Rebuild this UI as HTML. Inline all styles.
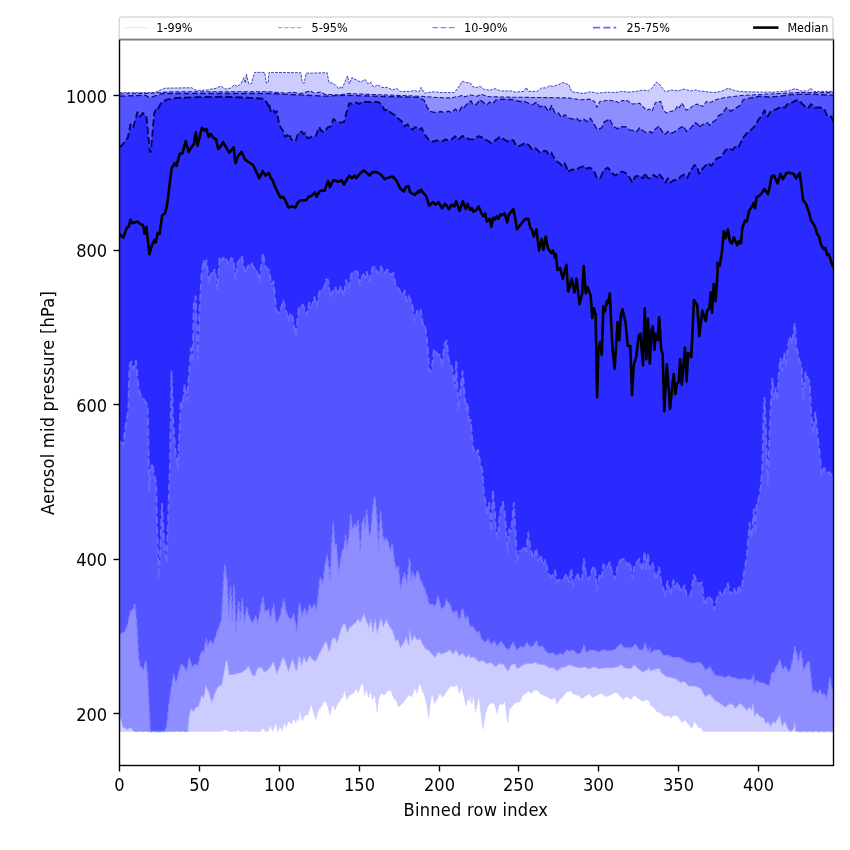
<!DOCTYPE html>
<html><head><meta charset="utf-8"><title>Aerosol mid pressure percentiles</title>
<style>
html,body{margin:0;padding:0;background:#fff;}
body{width:850px;height:850px;overflow:hidden;}
svg{display:block;}
text{font-family:"DejaVu Sans Condensed","DejaVu Sans","Liberation Sans",sans-serif;font-stretch:condensed;fill:#000;}
.tk{font-size:18.06px;}
.lb{font-size:18.06px;letter-spacing:0.24px;}
.lg{font-size:12.5px;}
</style></head><body>
<svg width="850" height="850" viewBox="0 0 850 850">
<rect x="0" y="0" width="850" height="850" fill="#fff"/>
<defs><clipPath id="ax"><rect x="119.5" y="39.5" width="714.0" height="726.0"/></clipPath></defs>
<g clip-path="url(#ax)">
<path d="M119.5,92.6 L154.3,92.6 L164.9,88.2 L191.4,87.7 L196.6,90.4 L207.2,90.0 L216.1,88.2 L221.0,86.1 L224.9,89.1 L230.2,88.2 L234.6,84.7 L237.2,86.5 L240.8,83.8 L243.9,77.6 L245.2,82.9 L246.4,74.1 L248.7,83.8 L251.4,83.8 L254.5,72.4 L264.6,72.4 L266.4,82.9 L268.1,82.9 L269.0,72.4 L300.8,72.7 L302.5,82.9 L304.3,82.9 L306.1,73.2 L327.2,72.7 L329.0,82.9 L332.5,82.9 L336.9,86.5 L338.7,89.1 L340.5,86.5 L342.2,88.2 L347.5,75.9 L349.3,83.8 L351.9,77.6 L357.2,80.3 L360.8,82.1 L365.2,79.4 L367.8,83.8 L370.5,82.1 L374.0,87.4 L377.5,84.7 L381.9,87.4 L387.2,87.4 L392.5,90.0 L396.9,88.2 L399.6,91.4 L410.2,91.4 L413.7,90.4 L419.0,91.8 L421.1,87.4 L424.3,93.2 L433.1,91.8 L441.9,92.6 L454.3,92.6 L457.8,88.2 L462.2,81.2 L466.6,82.6 L470.2,82.9 L472.8,86.8 L477.2,87.4 L479.9,86.1 L483.4,89.1 L489.6,90.4 L494.9,88.6 L500.2,90.9 L510.8,90.9 L515.2,92.1 L524.0,91.4 L526.3,87.4 L528.4,91.4 L537.2,91.4 L541.6,87.9 L546.1,87.9 L549.6,85.6 L553.1,86.5 L558.4,84.7 L562.8,82.6 L569.0,84.7 L571.6,91.8 L577.8,92.6 L583.1,93.5 L590.2,91.8 L597.2,93.2 L607.8,92.1 L614.9,92.6 L621.9,91.4 L629.0,92.1 L636.1,91.4 L643.1,90.0 L648.4,90.9 L651.9,88.2 L656.4,82.1 L659.0,83.8 L662.5,88.2 L665.2,91.8 L671.4,90.0 L678.4,90.9 L683.7,89.1 L690.8,90.9 L696.1,90.0 L699.6,91.1 L700.0,90.9 L707.1,91.8 L714.1,92.6 L721.2,91.4 L728.2,88.2 L735.3,90.9 L745.9,91.8 L761.8,92.1 L774.1,92.1 L788.2,90.9 L795.3,88.6 L800.6,90.9 L807.6,90.9 L810.8,88.2 L813.8,91.4 L833.5,91.4 L833.5,731.5 L703.6,731.5 L701.3,728.2 L698.2,727.1 L694.7,721.2 L691.9,728.2 L688.8,724.7 L685.3,720.0 L681.8,722.4 L678.2,716.5 L674.7,715.3 L671.2,717.6 L667.6,715.3 L664.1,716.5 L660.6,712.9 L657.1,711.8 L653.5,707.1 L650.0,704.7 L649.8,701.6 L646.8,699.5 L642.6,701.6 L638.4,698.5 L634.1,695.3 L630.9,699.5 L626.7,696.4 L622.9,699.5 L620.4,696.4 L616.1,692.1 L609.8,695.3 L605.5,696.4 L601.3,693.2 L597.1,695.3 L592.8,697.4 L589.6,694.2 L586.5,695.3 L582.2,698.5 L578.0,695.3 L573.8,694.2 L570.6,691.1 L566.4,692.1 L563.2,696.4 L560.0,699.5 L556.8,703.8 L554.7,697.4 L551.5,699.5 L548.4,697.4 L544.1,695.3 L540.9,694.2 L537.3,690.0 L534.6,690.0 L531.4,693.2 L528.2,691.1 L526.1,693.2 L522.9,695.3 L519.8,701.6 L515.5,702.7 L512.4,705.9 L509.2,710.1 L507.7,722.8 L504.9,701.6 L502.2,704.8 L499.6,703.8 L497.1,713.3 L494.4,703.8 L491.2,702.7 L488.0,705.9 L485.2,714.4 L483.1,729.2 L481.0,714.4 L478.9,696.4 L476.8,705.9 L475.3,712.2 L473.8,695.3 L471.7,703.8 L470.0,691.1 L469.8,701.6 L467.9,697.4 L466.2,705.9 L464.7,699.5 L461.5,686.8 L459.4,693.2 L457.3,684.7 L454.1,686.8 L450.9,685.8 L446.7,691.1 L442.5,697.4 L439.9,693.2 L437.2,699.5 L434.4,703.8 L432.3,693.2 L430.8,699.5 L428.7,718.6 L426.6,703.8 L424.5,695.3 L422.4,691.1 L419.6,682.6 L417.1,693.2 L414.9,687.9 L411.8,696.4 L408.6,695.3 L405.4,699.5 L402.2,703.8 L398.4,706.9 L395.9,699.5 L393.8,698.5 L390.6,690.0 L387.4,691.1 L384.2,695.3 L381.1,693.2 L378.5,699.5 L377.2,712.2 L374.7,694.2 L372.6,699.5 L370.5,691.1 L368.4,697.4 L366.7,688.9 L364.5,695.3 L363.1,683.6 L360.9,684.7 L358.2,693.2 L356.1,688.9 L353.5,693.2 L349.3,695.3 L346.8,699.5 L344.6,690.0 L342.9,696.4 L340.8,699.5 L337.6,703.8 L334.9,710.1 L332.4,703.8 L330.2,715.4 L327.7,705.9 L324.9,699.5 L321.8,705.9 L318.6,710.1 L315.8,719.6 L313.3,712.2 L311.2,703.8 L308.0,714.4 L304.8,715.4 L302.3,720.7 L299.5,709.1 L298.8,720.9 L297.9,716.7 L295.8,723.1 L293.7,717.8 L291.6,724.1 L288.4,720.9 L286.3,727.3 L284.2,723.1 L282.1,730.5 L279.9,726.2 L277.8,731.5 L275.7,723.1 L272.5,731.5 L270.4,725.2 L268.3,731.5 L265.1,731.5 L263.0,727.3 L260.9,731.5 L247.8,731.5 L246.1,729.4 L245.0,731.5 L239.3,731.5 L237.6,729.4 L236.5,731.5 L228.1,731.5 L225.9,729.4 L220.6,731.5 L119.5,731.5Z" fill="#0000ff" fill-opacity="0.2" stroke="none"/>
<path d="M119.5,93.9 L145.5,93.5 L171.9,91.8 L269.0,91.8 L286.6,93.2 L291.9,92.1 L300.8,93.5 L310.5,90.9 L314.9,93.5 L320.2,92.1 L325.5,94.4 L339.6,94.9 L348.4,93.5 L357.2,93.9 L419.0,96.2 L436.6,97.4 L450.8,97.9 L459.6,96.2 L462.2,95.3 L464.9,96.7 L470.2,94.9 L477.2,96.2 L480.8,94.4 L489.6,96.7 L507.2,97.1 L569.0,97.9 L579.6,99.7 L590.2,99.2 L594.6,101.5 L596.9,107.3 L599.9,101.5 L609.6,100.2 L616.6,101.5 L619.3,103.2 L621.9,100.6 L627.2,100.6 L632.5,104.1 L639.6,103.2 L643.1,106.8 L646.6,110.3 L649.3,109.1 L651.9,111.2 L655.5,102.4 L660.8,101.5 L663.4,110.3 L666.1,112.9 L671.4,111.2 L674.9,110.3 L677.5,105.9 L679.3,107.6 L681.9,103.2 L686.4,110.3 L690.8,107.6 L694.3,105.0 L697.8,104.1 L699.6,106.2 L700.0,105.5 L703.5,106.2 L706.2,101.5 L710.6,102.4 L715.9,99.7 L722.9,97.9 L731.8,96.7 L744.1,95.3 L761.8,94.4 L779.4,93.5 L797.1,92.6 L833.5,92.6 L833.5,731.7 L797.1,731.7 L796.1,731.5 L794.7,722.4 L793.5,728.7 L790.7,731.5 L787.9,728.7 L785.1,721.6 L782.2,725.9 L779.7,714.6 L775.2,723.1 L773.1,720.9 L770.9,725.9 L768.1,721.6 L766.0,723.8 L763.9,718.1 L759.6,716.0 L757.1,712.5 L754.7,716.0 L753.3,703.3 L751.2,709.6 L749.1,706.8 L746.9,710.4 L743.4,706.1 L739.9,703.3 L735.6,708.2 L732.8,704.7 L730.0,703.3 L729.5,704.0 L725.3,707.1 L720.6,703.5 L714.7,700.0 L710.0,694.1 L705.3,696.5 L700.6,688.2 L694.7,685.9 L688.8,685.9 L684.1,681.2 L680.6,682.4 L675.9,678.8 L671.2,677.6 L666.5,676.5 L661.8,672.9 L659.4,668.2 L654.7,669.4 L650.0,670.6 L649.8,667.8 L646.8,669.9 L642.6,672.0 L638.4,668.8 L634.1,664.6 L630.9,668.8 L624.6,667.8 L620.8,664.6 L618.2,666.7 L611.9,667.8 L605.5,667.8 L599.2,668.8 L593.9,666.7 L588.6,668.8 L584.4,666.7 L580.1,667.8 L574.8,666.7 L569.5,664.6 L565.3,666.7 L561.1,667.8 L556.8,670.9 L553.6,667.8 L549.4,667.8 L544.1,664.6 L539.9,664.6 L535.6,662.5 L530.4,663.5 L526.1,663.5 L521.9,665.6 L517.6,668.8 L514.5,663.5 L511.3,664.6 L507.7,670.9 L503.9,664.6 L499.6,663.5 L495.4,666.7 L491.2,662.5 L486.9,663.5 L482.7,660.4 L478.5,661.4 L474.2,657.2 L470.0,657.2 L469.8,654.0 L465.8,657.2 L462.6,652.9 L459.4,656.1 L456.2,649.8 L453.1,654.0 L449.9,649.8 L446.7,651.9 L441.4,654.0 L438.2,651.9 L435.1,657.2 L431.9,654.0 L428.7,649.8 L426.6,649.8 L423.4,645.5 L419.6,638.1 L417.1,640.2 L414.5,634.9 L411.8,641.3 L409.6,628.6 L409.0,645.5 L406.5,637.1 L404.4,641.3 L400.5,647.6 L398.0,639.2 L395.9,641.3 L392.7,630.7 L389.5,626.5 L386.4,619.1 L383.2,626.5 L381.1,616.9 L377.2,632.8 L375.1,618.0 L373.0,631.8 L370.9,619.1 L368.8,626.5 L366.2,620.1 L363.7,613.8 L360.3,622.2 L358.2,619.1 L353.5,624.4 L350.4,626.5 L347.2,631.8 L345.5,624.4 L342.9,624.4 L339.8,632.8 L337.0,642.4 L334.9,637.1 L331.9,639.2 L329.2,651.9 L326.4,641.3 L323.9,644.5 L319.6,652.9 L315.4,661.4 L312.2,659.3 L309.5,655.1 L306.5,662.5 L303.8,656.1 L301.6,665.6 L299.5,655.5 L298.8,657.4 L296.5,671.2 L292.6,658.5 L288.4,671.2 L286.3,663.8 L283.1,656.4 L279.9,665.9 L276.8,673.3 L273.6,661.6 L269.4,668.0 L265.1,672.2 L260.9,666.9 L257.7,668.0 L254.5,676.5 L251.4,673.3 L248.6,665.9 L246.1,669.1 L241.8,672.2 L237.6,673.3 L233.4,674.4 L229.1,674.4 L227.4,660.6 L225.9,661.6 L223.8,672.2 L221.7,684.9 L218.5,686.0 L215.4,691.3 L211.8,701.9 L209.0,692.4 L205.8,684.9 L203.7,697.6 L201.6,695.5 L198.4,706.1 L195.2,708.2 L193.1,711.4 L191.0,708.2 L188.9,716.7 L187.8,731.5 L133.8,731.5 L130.6,727.3 L127.5,729.4 L123.2,727.3 L120.7,718.8 L119.5,717.8Z" fill="#0000ff" fill-opacity="0.3" stroke="none"/>
<path d="M119.5,96.2 L145.5,95.3 L149.9,97.9 L154.3,96.2 L163.1,93.5 L269.0,93.5 L325.5,96.2 L343.1,95.3 L419.0,97.4 L424.3,100.6 L426.9,106.8 L429.6,111.2 L433.1,112.1 L436.6,112.6 L441.1,111.5 L444.6,112.9 L448.1,111.2 L451.6,112.6 L455.2,109.1 L458.7,112.1 L462.2,106.2 L464.0,107.6 L468.4,102.4 L471.1,100.9 L472.8,104.5 L476.4,104.5 L479.9,99.7 L483.4,102.4 L486.9,105.0 L489.6,102.0 L492.2,104.1 L495.8,100.2 L501.9,99.2 L512.5,99.7 L519.6,101.5 L524.9,101.5 L531.9,105.0 L536.4,102.4 L539.9,106.8 L544.3,105.5 L548.7,111.5 L551.7,105.5 L554.9,112.9 L558.4,112.9 L561.9,118.2 L564.6,114.7 L569.0,118.2 L572.5,119.1 L576.9,118.6 L579.6,120.9 L584.0,119.1 L586.6,121.8 L590.2,118.2 L593.7,123.5 L597.2,129.7 L601.6,127.9 L604.3,121.8 L609.6,119.1 L613.1,126.2 L617.5,128.8 L621.1,126.7 L625.5,126.7 L629.9,130.2 L634.3,130.6 L636.9,131.5 L639.6,127.9 L644.0,131.5 L647.5,133.2 L650.2,131.5 L651.9,133.2 L654.6,129.7 L659.0,126.2 L661.6,130.6 L664.3,135.0 L667.8,131.5 L672.2,133.2 L676.6,130.6 L680.2,127.9 L683.7,126.2 L686.4,131.5 L690.8,127.9 L695.2,122.6 L697.8,124.4 L699.6,127.9 L700.0,126.2 L703.5,124.4 L707.1,122.6 L709.7,125.3 L713.2,121.8 L715.9,120.0 L718.5,115.6 L722.1,113.8 L726.5,107.6 L730.9,111.2 L735.3,108.5 L740.6,105.0 L743.2,99.7 L751.2,97.9 L760.0,96.2 L770.6,97.1 L779.4,96.2 L788.2,94.9 L798.8,94.4 L814.7,94.4 L833.5,95.3 L833.5,693.4 L831.6,687.8 L830.0,677.9 L828.1,690.6 L826.7,698.4 L823.9,692.7 L822.5,696.2 L820.4,689.9 L817.5,694.1 L814.7,690.6 L812.6,693.4 L810.8,676.5 L809.1,660.9 L806.2,665.2 L803.4,670.8 L802.3,660.9 L800.6,650.4 L798.5,663.1 L796.6,653.9 L794.9,646.8 L792.1,663.8 L789.3,672.9 L787.2,669.4 L785.1,666.6 L782.5,670.1 L780.1,660.2 L777.3,665.2 L774.5,671.5 L771.6,673.6 L769.5,685.6 L766.7,684.9 L762.5,682.8 L758.2,682.1 L756.1,680.7 L754.7,686.4 L753.3,674.4 L751.9,680.0 L749.8,680.0 L744.1,678.6 L738.5,679.3 L734.2,677.9 L730.0,676.5 L729.5,675.8 L725.3,677.6 L720.6,676.5 L714.7,675.3 L710.0,667.1 L705.3,670.6 L701.8,663.5 L697.1,662.4 L692.4,663.5 L685.3,661.2 L679.4,657.6 L673.5,657.6 L667.6,655.3 L662.9,655.3 L659.4,649.4 L654.7,650.6 L650.0,652.9 L649.8,647.6 L647.9,651.9 L645.3,643.4 L642.6,650.8 L639.4,649.8 L635.2,644.5 L630.9,648.7 L627.8,647.6 L623.5,647.6 L620.8,643.4 L616.1,648.7 L611.9,650.8 L607.6,650.8 L603.4,649.8 L599.2,651.9 L594.9,650.8 L590.7,649.8 L586.5,652.9 L583.9,645.5 L581.2,652.9 L576.9,654.0 L572.7,649.8 L569.5,651.9 L566.4,649.8 L563.2,655.1 L560.0,652.9 L556.8,656.1 L553.6,652.9 L549.4,654.0 L545.2,650.8 L542.0,645.5 L538.8,647.6 L536.7,641.3 L533.5,645.5 L530.4,647.6 L527.2,642.4 L524.0,647.6 L520.8,646.6 L516.6,650.8 L513.4,642.4 L511.3,645.5 L508.1,650.8 L503.9,645.5 L500.7,641.3 L497.5,646.6 L494.4,641.3 L491.2,644.5 L488.0,639.2 L484.8,642.4 L481.6,639.2 L478.5,630.7 L476.4,632.8 L473.2,626.5 L470.0,626.5 L469.8,626.1 L467.5,615.5 L465.3,619.8 L462.6,608.1 L459.4,620.8 L456.2,610.2 L453.1,613.4 L449.9,604.9 L446.7,599.6 L444.2,607.1 L441.4,609.2 L438.2,596.5 L435.1,607.1 L432.9,603.9 L429.3,604.9 L426.6,594.4 L423.4,585.9 L420.2,579.5 L417.5,570.0 L414.9,579.5 L412.8,572.1 L411.1,581.6 L409.6,558.4 L406.9,583.8 L404.4,573.2 L402.7,579.5 L400.5,590.1 L398.4,566.8 L395.9,568.9 L394.2,560.5 L392.3,543.5 L390.6,552.0 L388.5,543.5 L385.7,537.2 L384.2,543.5 L382.8,537.2 L380.6,511.8 L378.5,549.9 L376.8,518.1 L374.7,495.9 L372.6,511.8 L370.5,537.2 L368.8,532.9 L366.7,509.6 L365.2,530.8 L363.7,518.1 L362.0,524.5 L360.3,554.1 L358.2,520.2 L356.1,527.6 L354.2,524.5 L352.5,530.8 L350.8,514.9 L349.3,532.9 L347.2,549.9 L345.7,535.1 L344.0,547.8 L341.9,552.0 L338.7,573.2 L336.2,542.5 L334.9,547.8 L333.2,522.4 L331.9,543.5 L330.2,581.6 L329.2,571.1 L327.1,555.2 L324.9,566.8 L322.8,585.9 L320.7,577.4 L319.6,581.6 L316.5,611.3 L314.4,603.9 L312.2,609.2 L309.5,604.9 L306.9,615.5 L304.4,608.1 L302.3,617.6 L299.5,602.8 L298.8,608.7 L296.9,632.0 L293.7,614.0 L290.5,620.4 L286.3,612.9 L283.8,599.2 L279.9,617.2 L276.1,623.5 L273.6,604.5 L270.4,619.3 L268.3,608.7 L265.1,612.9 L263.0,597.1 L259.8,612.9 L257.7,623.5 L255.6,616.1 L252.4,623.5 L249.2,617.2 L246.7,607.6 L244.4,623.5 L242.2,599.2 L240.3,621.4 L238.6,601.3 L235.9,632.0 L234.0,585.4 L232.3,621.4 L230.6,587.5 L228.7,619.3 L227.0,581.2 L224.9,565.3 L223.8,576.9 L221.7,619.3 L219.6,625.6 L216.4,634.1 L213.2,644.7 L210.1,640.5 L207.9,646.8 L206.2,638.4 L203.7,653.2 L201.6,651.1 L197.8,665.9 L195.2,663.8 L192.1,668.0 L189.3,657.4 L186.8,672.2 L184.6,668.0 L181.9,663.8 L179.4,670.1 L176.2,682.8 L173.6,674.4 L170.9,691.3 L168.8,706.1 L166.6,727.3 L164.5,731.5 L150.3,731.5 L149.1,708.2 L147.6,678.6 L145.9,660.6 L143.4,670.1 L140.2,665.9 L138.5,657.4 L137.0,627.8 L134.9,604.5 L132.8,609.8 L130.6,610.8 L127.5,625.6 L124.3,632.0 L120.7,634.1 L119.5,634.1Z" fill="#0000ff" fill-opacity="0.4" stroke="none"/>
<path d="M119.5,147.4 L122.5,144.7 L127.8,137.6 L130.5,124.4 L133.1,127.9 L137.5,112.1 L140.2,116.5 L142.8,112.9 L146.4,116.5 L149.9,151.8 L150.8,151.8 L154.3,112.9 L156.9,107.6 L158.2,108.5 L161.4,102.4 L166.6,99.7 L177.2,97.9 L198.4,97.1 L224.9,96.7 L251.4,97.9 L263.7,98.8 L267.2,103.2 L268.8,106.8 L269.0,104.1 L270.8,111.2 L273.4,109.4 L275.2,112.9 L276.9,111.2 L278.7,121.8 L280.5,127.1 L284.0,132.4 L284.9,136.8 L287.5,135.0 L288.4,138.5 L290.2,135.9 L291.1,139.4 L295.5,141.2 L298.1,133.2 L301.6,131.5 L303.4,134.1 L305.2,133.2 L307.8,138.5 L311.4,136.8 L315.8,135.9 L319.3,127.1 L321.1,130.6 L324.6,132.4 L327.2,127.9 L330.8,126.2 L333.4,119.1 L336.9,121.8 L340.5,122.6 L344.0,121.8 L346.6,112.1 L349.3,103.2 L353.7,104.1 L356.4,102.4 L359.0,104.1 L361.6,102.0 L378.4,102.0 L381.9,105.0 L384.6,110.3 L388.1,109.4 L390.8,112.9 L394.3,114.7 L397.8,118.2 L401.4,120.9 L404.0,126.2 L407.5,124.4 L411.9,129.7 L415.5,127.1 L418.8,129.7 L419.0,129.7 L421.6,127.9 L424.3,134.1 L427.8,138.5 L429.6,140.8 L433.1,141.5 L436.6,140.3 L441.9,141.5 L445.5,139.4 L449.9,140.8 L455.2,136.2 L458.7,139.4 L462.2,135.9 L465.8,137.6 L469.3,139.4 L473.7,139.4 L478.1,136.2 L482.5,137.6 L486.9,140.3 L491.4,143.3 L494.9,140.8 L499.3,137.3 L502.8,138.5 L507.2,141.5 L509.9,139.8 L513.4,140.3 L516.9,146.8 L521.4,145.1 L524.9,142.9 L528.4,144.7 L531.9,149.1 L535.5,148.2 L539.9,152.6 L542.5,150.9 L546.1,150.9 L548.7,154.4 L551.4,152.6 L554.9,159.7 L558.4,162.4 L561.9,165.5 L564.6,163.2 L568.8,172.1 L569.0,170.8 L572.5,169.4 L576.1,170.3 L578.7,168.0 L584.0,165.9 L586.6,168.5 L590.2,167.6 L594.6,172.1 L597.2,178.6 L600.8,177.4 L603.4,170.3 L607.8,167.6 L612.2,172.9 L614.9,175.6 L618.4,173.8 L621.9,171.5 L625.5,172.9 L629.9,177.9 L632.2,182.6 L635.2,176.5 L639.6,175.6 L643.1,178.6 L644.9,172.9 L647.5,177.9 L651.1,178.6 L653.7,174.7 L656.4,177.4 L659.0,173.8 L662.5,178.2 L665.2,182.6 L667.8,178.2 L670.5,182.6 L674.0,180.0 L677.5,180.0 L681.1,176.1 L684.6,174.7 L687.2,177.9 L690.8,170.3 L694.6,165.0 L696.9,166.2 L699.2,173.8 L700.0,172.1 L703.5,167.6 L707.9,163.2 L711.5,165.9 L714.1,161.5 L717.6,157.9 L721.2,157.1 L725.6,150.0 L729.1,148.2 L732.6,150.0 L736.2,145.6 L738.8,146.5 L743.2,137.6 L746.8,133.2 L751.2,129.7 L755.6,125.3 L758.2,120.0 L761.8,115.6 L764.4,110.3 L767.9,116.5 L770.6,111.2 L775.9,109.4 L781.2,106.8 L784.7,107.6 L788.2,103.2 L792.6,102.4 L796.2,100.2 L799.7,100.9 L802.4,104.1 L807.6,108.5 L811.2,104.1 L814.7,107.6 L820.0,107.3 L824.4,109.4 L827.9,117.4 L831.5,116.5 L833.5,123.5 L833.5,477.3 L829.2,472.0 L827.1,473.1 L823.9,467.8 L821.8,475.2 L819.6,454.0 L817.5,434.9 L815.4,412.7 L813.3,432.8 L811.2,415.9 L809.7,382.0 L807.6,377.8 L805.5,372.5 L803.3,398.9 L801.6,366.1 L799.5,360.8 L797.8,352.4 L796.4,348.1 L794.7,323.8 L792.1,343.9 L790.0,336.5 L787.9,346.0 L785.8,365.1 L784.3,353.4 L782.2,371.4 L780.5,358.7 L778.8,373.5 L777.3,401.1 L775.8,388.4 L774.1,398.9 L772.4,378.8 L770.9,403.2 L769.5,437.1 L767.8,483.6 L766.1,437.1 L764.6,397.9 L763.5,415.9 L762.7,458.2 L762.2,470.0 L760.7,486.9 L758.6,499.6 L756.5,503.9 L755.4,533.5 L753.9,509.2 L751.8,537.8 L749.7,522.9 L748.0,542.0 L746.9,556.8 L743.8,573.8 L741.2,591.8 L739.1,585.4 L736.4,596.0 L734.2,588.6 L730.6,594.9 L727.9,583.3 L724.7,590.7 L722.6,597.1 L720.0,591.8 L717.3,597.1 L714.5,609.8 L712.0,600.2 L708.2,596.0 L704.6,605.5 L701.8,582.2 L698.9,584.4 L696.1,580.1 L694.0,574.8 L690.8,594.9 L687.0,597.1 L684.5,585.4 L681.3,592.8 L677.7,582.2 L675.6,587.5 L673.5,580.1 L670.1,594.9 L667.5,581.2 L665.0,597.1 L663.3,588.6 L661.2,582.2 L659.1,567.4 L655.9,580.1 L652.7,563.2 L650.2,566.4 L649.8,569.5 L647.9,554.7 L646.2,569.5 L644.7,551.5 L642.0,571.6 L639.4,558.9 L634.1,566.4 L632.6,579.1 L629.9,562.1 L627.8,565.3 L624.2,558.9 L620.8,560.0 L618.2,563.2 L615.1,579.1 L611.9,571.6 L609.8,562.1 L606.6,568.5 L603.4,564.2 L601.7,576.9 L599.6,573.8 L597.1,590.7 L594.9,566.4 L592.4,568.5 L589.0,580.1 L586.0,573.8 L583.9,558.9 L582.2,578.0 L580.1,582.2 L577.6,572.7 L575.9,578.0 L573.3,585.4 L571.2,568.5 L569.1,582.2 L566.4,573.8 L563.2,580.1 L560.0,579.1 L556.8,582.2 L555.1,570.6 L551.5,576.9 L548.4,573.8 L545.2,560.0 L543.1,566.4 L540.9,554.7 L538.2,561.1 L536.3,548.4 L533.5,558.9 L530.4,548.4 L528.2,532.5 L526.1,551.5 L525.1,546.2 L521.9,550.5 L519.1,551.5 L517.0,561.1 L515.5,531.4 L513.8,502.8 L511.3,531.4 L509.2,529.3 L507.7,552.6 L504.9,514.5 L502.8,501.8 L499.6,514.5 L498.0,537.8 L495.8,531.4 L495.0,514.5 L492.9,490.1 L491.2,531.4 L489.1,502.8 L486.9,515.5 L485.9,503.9 L483.8,493.3 L482.4,471.3 L480.2,462.8 L478.1,450.1 L474.9,454.4 L472.8,445.9 L470.7,420.5 L468.9,420.0 L467.5,403.1 L465.8,409.4 L462.6,371.3 L460.5,388.2 L458.4,409.4 L456.2,360.7 L454.8,388.2 L452.0,367.1 L448.8,360.7 L446.7,340.6 L444.6,343.8 L442.0,367.1 L439.9,354.4 L438.2,355.4 L434.0,349.1 L431.5,371.3 L429.3,371.3 L427.6,345.9 L425.1,324.7 L423.0,324.7 L420.7,309.9 L419.2,313.1 L417.1,310.9 L414.9,320.5 L411.8,302.5 L408.6,296.1 L406.5,301.4 L404.8,290.8 L402.2,296.1 L398.0,287.6 L395.5,284.5 L393.3,272.8 L390.6,274.9 L387.4,269.6 L384.2,273.9 L381.1,266.5 L377.9,273.9 L374.7,266.5 L372.6,267.5 L369.4,281.3 L366.7,271.8 L365.2,278.1 L363.1,272.8 L359.9,285.5 L357.8,271.8 L354.6,270.7 L351.4,273.9 L348.2,288.7 L346.1,280.2 L344.0,296.1 L340.8,286.6 L337.6,295.1 L335.5,287.6 L333.4,289.8 L330.2,297.2 L328.1,280.2 L326.0,279.2 L323.9,288.7 L319.6,290.8 L316.5,306.7 L314.4,297.2 L311.2,307.8 L309.1,302.5 L306.9,315.2 L302.7,304.6 L298.8,307.8 L295.8,335.3 L292.6,317.3 L290.5,313.1 L288.4,320.5 L286.3,312.0 L283.1,300.4 L279.9,313.1 L276.1,310.9 L273.6,281.3 L271.0,284.5 L269.4,270.7 L267.2,268.6 L265.1,266.5 L263.0,253.1 L261.3,265.4 L259.2,281.3 L256.6,269.6 L254.5,268.6 L251.4,263.3 L248.2,265.4 L245.4,273.9 L243.9,267.5 L241.8,255.9 L239.7,260.1 L237.6,263.3 L235.5,279.2 L233.4,260.1 L231.2,258.0 L229.1,265.4 L227.0,260.1 L223.8,256.9 L221.7,261.2 L219.6,256.9 L217.5,289.8 L214.7,269.6 L213.2,273.9 L211.1,271.8 L209.0,283.4 L206.5,260.1 L205.2,267.5 L203.7,260.1 L201.6,273.9 L199.5,309.9 L197.8,358.6 L195.7,296.1 L193.8,303.5 L192.7,362.8 L191.0,348.0 L188.9,375.5 L186.8,400.9 L184.6,385.1 L182.5,407.3 L180.8,400.9 L179.4,431.8 L177.9,469.9 L175.1,448.7 L173.0,419.1 L171.5,371.3 L171.1,400.0 L169.8,469.9 L168.1,518.6 L166.6,563.1 L163.9,537.6 L162.0,503.8 L160.3,548.2 L158.8,577.9 L157.1,527.1 L156.1,482.6 L153.9,474.1 L152.2,463.5 L150.3,472.0 L149.3,491.1 L148.4,442.4 L148.0,420.0 L147.6,405.2 L145.5,402.0 L142.7,397.8 L140.2,394.6 L138.1,384.0 L135.9,360.7 L133.4,369.2 L131.3,361.8 L129.6,364.9 L128.7,388.2 L128.3,410.6 L125.4,427.5 L123.2,444.5 L120.7,442.4 L119.5,441.3Z" fill="#0000ff" fill-opacity="0.5" stroke="none"/>
<path d="M119.5,731.5 L220.6,731.5 L225.9,729.4 L228.1,731.5 L236.5,731.5 L237.6,729.4 L239.3,731.5 L245.0,731.5 L246.1,729.4 L247.8,731.5 L260.9,731.5 L263.0,727.3 L265.1,731.5 L268.3,731.5 L270.4,725.2 L272.5,731.5 L275.7,723.1 L277.8,731.5 L279.9,726.2 L282.1,730.5 L284.2,723.1 L286.3,727.3 L288.4,720.9 L291.6,724.1 L293.7,717.8 L295.8,723.1 L297.9,716.7 L298.8,720.9 L299.5,709.1 L302.3,720.7 L304.8,715.4 L308.0,714.4 L311.2,703.8 L313.3,712.2 L315.8,719.6 L318.6,710.1 L321.8,705.9 L324.9,699.5 L327.7,705.9 L330.2,715.4 L332.4,703.8 L334.9,710.1 L337.6,703.8 L340.8,699.5 L342.9,696.4 L344.6,690.0 L346.8,699.5 L349.3,695.3 L353.5,693.2 L356.1,688.9 L358.2,693.2 L360.9,684.7 L363.1,683.6 L364.5,695.3 L366.7,688.9 L368.4,697.4 L370.5,691.1 L372.6,699.5 L374.7,694.2 L377.2,712.2 L378.5,699.5 L381.1,693.2 L384.2,695.3 L387.4,691.1 L390.6,690.0 L393.8,698.5 L395.9,699.5 L398.4,706.9 L402.2,703.8 L405.4,699.5 L408.6,695.3 L411.8,696.4 L414.9,687.9 L417.1,693.2 L419.6,682.6 L422.4,691.1 L424.5,695.3 L426.6,703.8 L428.7,718.6 L430.8,699.5 L432.3,693.2 L434.4,703.8 L437.2,699.5 L439.9,693.2 L442.5,697.4 L446.7,691.1 L450.9,685.8 L454.1,686.8 L457.3,684.7 L459.4,693.2 L461.5,686.8 L464.7,699.5 L466.2,705.9 L467.9,697.4 L469.8,701.6 L470.0,691.1 L471.7,703.8 L473.8,695.3 L475.3,712.2 L476.8,705.9 L478.9,696.4 L481.0,714.4 L483.1,729.2 L485.2,714.4 L488.0,705.9 L491.2,702.7 L494.4,703.8 L497.1,713.3 L499.6,703.8 L502.2,704.8 L504.9,701.6 L507.7,722.8 L509.2,710.1 L512.4,705.9 L515.5,702.7 L519.8,701.6 L522.9,695.3 L526.1,693.2 L528.2,691.1 L531.4,693.2 L534.6,690.0 L537.3,690.0 L540.9,694.2 L544.1,695.3 L548.4,697.4 L551.5,699.5 L554.7,697.4 L556.8,703.8 L560.0,699.5 L563.2,696.4 L566.4,692.1 L570.6,691.1 L573.8,694.2 L578.0,695.3 L582.2,698.5 L586.5,695.3 L589.6,694.2 L592.8,697.4 L597.1,695.3 L601.3,693.2 L605.5,696.4 L609.8,695.3 L616.1,692.1 L620.4,696.4 L622.9,699.5 L626.7,696.4 L630.9,699.5 L634.1,695.3 L638.4,698.5 L642.6,701.6 L646.8,699.5 L649.8,701.6 L650.0,704.7 L653.5,707.1 L657.1,711.8 L660.6,712.9 L664.1,716.5 L667.6,715.3 L671.2,717.6 L674.7,715.3 L678.2,716.5 L681.8,722.4 L685.3,720.0 L688.8,724.7 L691.9,728.2 L694.7,721.2 L698.2,727.1 L701.3,728.2 L703.6,731.5 L833.5,731.5" fill="none" stroke="#ccccff" stroke-width="0.76" stroke-dasharray="2.8 1.2" stroke-linejoin="round"/>
<path d="M119.5,717.8 L120.7,718.8 L123.2,727.3 L127.5,729.4 L130.6,727.3 L133.8,731.5 L187.8,731.5 L188.9,716.7 L191.0,708.2 L193.1,711.4 L195.2,708.2 L198.4,706.1 L201.6,695.5 L203.7,697.6 L205.8,684.9 L209.0,692.4 L211.8,701.9 L215.4,691.3 L218.5,686.0 L221.7,684.9 L223.8,672.2 L225.9,661.6 L227.4,660.6 L229.1,674.4 L233.4,674.4 L237.6,673.3 L241.8,672.2 L246.1,669.1 L248.6,665.9 L251.4,673.3 L254.5,676.5 L257.7,668.0 L260.9,666.9 L265.1,672.2 L269.4,668.0 L273.6,661.6 L276.8,673.3 L279.9,665.9 L283.1,656.4 L286.3,663.8 L288.4,671.2 L292.6,658.5 L296.5,671.2 L298.8,657.4 L299.5,655.5 L301.6,665.6 L303.8,656.1 L306.5,662.5 L309.5,655.1 L312.2,659.3 L315.4,661.4 L319.6,652.9 L323.9,644.5 L326.4,641.3 L329.2,651.9 L331.9,639.2 L334.9,637.1 L337.0,642.4 L339.8,632.8 L342.9,624.4 L345.5,624.4 L347.2,631.8 L350.4,626.5 L353.5,624.4 L358.2,619.1 L360.3,622.2 L363.7,613.8 L366.2,620.1 L368.8,626.5 L370.9,619.1 L373.0,631.8 L375.1,618.0 L377.2,632.8 L381.1,616.9 L383.2,626.5 L386.4,619.1 L389.5,626.5 L392.7,630.7 L395.9,641.3 L398.0,639.2 L400.5,647.6 L404.4,641.3 L406.5,637.1 L409.0,645.5 L409.6,628.6 L411.8,641.3 L414.5,634.9 L417.1,640.2 L419.6,638.1 L423.4,645.5 L426.6,649.8 L428.7,649.8 L431.9,654.0 L435.1,657.2 L438.2,651.9 L441.4,654.0 L446.7,651.9 L449.9,649.8 L453.1,654.0 L456.2,649.8 L459.4,656.1 L462.6,652.9 L465.8,657.2 L469.8,654.0 L470.0,657.2 L474.2,657.2 L478.5,661.4 L482.7,660.4 L486.9,663.5 L491.2,662.5 L495.4,666.7 L499.6,663.5 L503.9,664.6 L507.7,670.9 L511.3,664.6 L514.5,663.5 L517.6,668.8 L521.9,665.6 L526.1,663.5 L530.4,663.5 L535.6,662.5 L539.9,664.6 L544.1,664.6 L549.4,667.8 L553.6,667.8 L556.8,670.9 L561.1,667.8 L565.3,666.7 L569.5,664.6 L574.8,666.7 L580.1,667.8 L584.4,666.7 L588.6,668.8 L593.9,666.7 L599.2,668.8 L605.5,667.8 L611.9,667.8 L618.2,666.7 L620.8,664.6 L624.6,667.8 L630.9,668.8 L634.1,664.6 L638.4,668.8 L642.6,672.0 L646.8,669.9 L649.8,667.8 L650.0,670.6 L654.7,669.4 L659.4,668.2 L661.8,672.9 L666.5,676.5 L671.2,677.6 L675.9,678.8 L680.6,682.4 L684.1,681.2 L688.8,685.9 L694.7,685.9 L700.6,688.2 L705.3,696.5 L710.0,694.1 L714.7,700.0 L720.6,703.5 L725.3,707.1 L729.5,704.0 L730.0,703.3 L732.8,704.7 L735.6,708.2 L739.9,703.3 L743.4,706.1 L746.9,710.4 L749.1,706.8 L751.2,709.6 L753.3,703.3 L754.7,716.0 L757.1,712.5 L759.6,716.0 L763.9,718.1 L766.0,723.8 L768.1,721.6 L770.9,725.9 L773.1,720.9 L775.2,723.1 L779.7,714.6 L782.2,725.9 L785.1,721.6 L787.9,728.7 L790.7,731.5 L793.5,728.7 L794.7,722.4 L796.1,731.5 L797.1,731.7 L833.5,731.7" fill="none" stroke="#a3a3ff" stroke-width="1.05" stroke-dasharray="4.3 1.9" stroke-linejoin="round"/>
<path d="M119.5,634.1 L120.7,634.1 L124.3,632.0 L127.5,625.6 L130.6,610.8 L132.8,609.8 L134.9,604.5 L137.0,627.8 L138.5,657.4 L140.2,665.9 L143.4,670.1 L145.9,660.6 L147.6,678.6 L149.1,708.2 L150.3,731.5 L164.5,731.5 L166.6,727.3 L168.8,706.1 L170.9,691.3 L173.6,674.4 L176.2,682.8 L179.4,670.1 L181.9,663.8 L184.6,668.0 L186.8,672.2 L189.3,657.4 L192.1,668.0 L195.2,663.8 L197.8,665.9 L201.6,651.1 L203.7,653.2 L206.2,638.4 L207.9,646.8 L210.1,640.5 L213.2,644.7 L216.4,634.1 L219.6,625.6 L221.7,619.3 L223.8,576.9 L224.9,565.3 L227.0,581.2 L228.7,619.3 L230.6,587.5 L232.3,621.4 L234.0,585.4 L235.9,632.0 L238.6,601.3 L240.3,621.4 L242.2,599.2 L244.4,623.5 L246.7,607.6 L249.2,617.2 L252.4,623.5 L255.6,616.1 L257.7,623.5 L259.8,612.9 L263.0,597.1 L265.1,612.9 L268.3,608.7 L270.4,619.3 L273.6,604.5 L276.1,623.5 L279.9,617.2 L283.8,599.2 L286.3,612.9 L290.5,620.4 L293.7,614.0 L296.9,632.0 L298.8,608.7 L299.5,602.8 L302.3,617.6 L304.4,608.1 L306.9,615.5 L309.5,604.9 L312.2,609.2 L314.4,603.9 L316.5,611.3 L319.6,581.6 L320.7,577.4 L322.8,585.9 L324.9,566.8 L327.1,555.2 L329.2,571.1 L330.2,581.6 L331.9,543.5 L333.2,522.4 L334.9,547.8 L336.2,542.5 L338.7,573.2 L341.9,552.0 L344.0,547.8 L345.7,535.1 L347.2,549.9 L349.3,532.9 L350.8,514.9 L352.5,530.8 L354.2,524.5 L356.1,527.6 L358.2,520.2 L360.3,554.1 L362.0,524.5 L363.7,518.1 L365.2,530.8 L366.7,509.6 L368.8,532.9 L370.5,537.2 L372.6,511.8 L374.7,495.9 L376.8,518.1 L378.5,549.9 L380.6,511.8 L382.8,537.2 L384.2,543.5 L385.7,537.2 L388.5,543.5 L390.6,552.0 L392.3,543.5 L394.2,560.5 L395.9,568.9 L398.4,566.8 L400.5,590.1 L402.7,579.5 L404.4,573.2 L406.9,583.8 L409.6,558.4 L411.1,581.6 L412.8,572.1 L414.9,579.5 L417.5,570.0 L420.2,579.5 L423.4,585.9 L426.6,594.4 L429.3,604.9 L432.9,603.9 L435.1,607.1 L438.2,596.5 L441.4,609.2 L444.2,607.1 L446.7,599.6 L449.9,604.9 L453.1,613.4 L456.2,610.2 L459.4,620.8 L462.6,608.1 L465.3,619.8 L467.5,615.5 L469.8,626.1 L470.0,626.5 L473.2,626.5 L476.4,632.8 L478.5,630.7 L481.6,639.2 L484.8,642.4 L488.0,639.2 L491.2,644.5 L494.4,641.3 L497.5,646.6 L500.7,641.3 L503.9,645.5 L508.1,650.8 L511.3,645.5 L513.4,642.4 L516.6,650.8 L520.8,646.6 L524.0,647.6 L527.2,642.4 L530.4,647.6 L533.5,645.5 L536.7,641.3 L538.8,647.6 L542.0,645.5 L545.2,650.8 L549.4,654.0 L553.6,652.9 L556.8,656.1 L560.0,652.9 L563.2,655.1 L566.4,649.8 L569.5,651.9 L572.7,649.8 L576.9,654.0 L581.2,652.9 L583.9,645.5 L586.5,652.9 L590.7,649.8 L594.9,650.8 L599.2,651.9 L603.4,649.8 L607.6,650.8 L611.9,650.8 L616.1,648.7 L620.8,643.4 L623.5,647.6 L627.8,647.6 L630.9,648.7 L635.2,644.5 L639.4,649.8 L642.6,650.8 L645.3,643.4 L647.9,651.9 L649.8,647.6 L650.0,652.9 L654.7,650.6 L659.4,649.4 L662.9,655.3 L667.6,655.3 L673.5,657.6 L679.4,657.6 L685.3,661.2 L692.4,663.5 L697.1,662.4 L701.8,663.5 L705.3,670.6 L710.0,667.1 L714.7,675.3 L720.6,676.5 L725.3,677.6 L729.5,675.8 L730.0,676.5 L734.2,677.9 L738.5,679.3 L744.1,678.6 L749.8,680.0 L751.9,680.0 L753.3,674.4 L754.7,686.4 L756.1,680.7 L758.2,682.1 L762.5,682.8 L766.7,684.9 L769.5,685.6 L771.6,673.6 L774.5,671.5 L777.3,665.2 L780.1,660.2 L782.5,670.1 L785.1,666.6 L787.2,669.4 L789.3,672.9 L792.1,663.8 L794.9,646.8 L796.6,653.9 L798.5,663.1 L800.6,650.4 L802.3,660.9 L803.4,670.8 L806.2,665.2 L809.1,660.9 L810.8,676.5 L812.6,693.4 L814.7,690.6 L817.5,694.1 L820.4,689.9 L822.5,696.2 L823.9,692.7 L826.7,698.4 L828.1,690.6 L830.0,677.9 L831.6,687.8 L833.5,693.4" fill="none" stroke="#8282ff" stroke-width="1.35" stroke-dasharray="5.7 2.5" stroke-linejoin="round"/>
<path d="M119.5,441.3 L120.7,442.4 L123.2,444.5 L125.4,427.5 L128.3,410.6 L128.7,388.2 L129.6,364.9 L131.3,361.8 L133.4,369.2 L135.9,360.7 L138.1,384.0 L140.2,394.6 L142.7,397.8 L145.5,402.0 L147.6,405.2 L148.0,420.0 L148.4,442.4 L149.3,491.1 L150.3,472.0 L152.2,463.5 L153.9,474.1 L156.1,482.6 L157.1,527.1 L158.8,577.9 L160.3,548.2 L162.0,503.8 L163.9,537.6 L166.6,563.1 L168.1,518.6 L169.8,469.9 L171.1,400.0 L171.5,371.3 L173.0,419.1 L175.1,448.7 L177.9,469.9 L179.4,431.8 L180.8,400.9 L182.5,407.3 L184.6,385.1 L186.8,400.9 L188.9,375.5 L191.0,348.0 L192.7,362.8 L193.8,303.5 L195.7,296.1 L197.8,358.6 L199.5,309.9 L201.6,273.9 L203.7,260.1 L205.2,267.5 L206.5,260.1 L209.0,283.4 L211.1,271.8 L213.2,273.9 L214.7,269.6 L217.5,289.8 L219.6,256.9 L221.7,261.2 L223.8,256.9 L227.0,260.1 L229.1,265.4 L231.2,258.0 L233.4,260.1 L235.5,279.2 L237.6,263.3 L239.7,260.1 L241.8,255.9 L243.9,267.5 L245.4,273.9 L248.2,265.4 L251.4,263.3 L254.5,268.6 L256.6,269.6 L259.2,281.3 L261.3,265.4 L263.0,253.1 L265.1,266.5 L267.2,268.6 L269.4,270.7 L271.0,284.5 L273.6,281.3 L276.1,310.9 L279.9,313.1 L283.1,300.4 L286.3,312.0 L288.4,320.5 L290.5,313.1 L292.6,317.3 L295.8,335.3 L298.8,307.8 L302.7,304.6 L306.9,315.2 L309.1,302.5 L311.2,307.8 L314.4,297.2 L316.5,306.7 L319.6,290.8 L323.9,288.7 L326.0,279.2 L328.1,280.2 L330.2,297.2 L333.4,289.8 L335.5,287.6 L337.6,295.1 L340.8,286.6 L344.0,296.1 L346.1,280.2 L348.2,288.7 L351.4,273.9 L354.6,270.7 L357.8,271.8 L359.9,285.5 L363.1,272.8 L365.2,278.1 L366.7,271.8 L369.4,281.3 L372.6,267.5 L374.7,266.5 L377.9,273.9 L381.1,266.5 L384.2,273.9 L387.4,269.6 L390.6,274.9 L393.3,272.8 L395.5,284.5 L398.0,287.6 L402.2,296.1 L404.8,290.8 L406.5,301.4 L408.6,296.1 L411.8,302.5 L414.9,320.5 L417.1,310.9 L419.2,313.1 L420.7,309.9 L423.0,324.7 L425.1,324.7 L427.6,345.9 L429.3,371.3 L431.5,371.3 L434.0,349.1 L438.2,355.4 L439.9,354.4 L442.0,367.1 L444.6,343.8 L446.7,340.6 L448.8,360.7 L452.0,367.1 L454.8,388.2 L456.2,360.7 L458.4,409.4 L460.5,388.2 L462.6,371.3 L465.8,409.4 L467.5,403.1 L468.9,420.0 L470.7,420.5 L472.8,445.9 L474.9,454.4 L478.1,450.1 L480.2,462.8 L482.4,471.3 L483.8,493.3 L485.9,503.9 L486.9,515.5 L489.1,502.8 L491.2,531.4 L492.9,490.1 L495.0,514.5 L495.8,531.4 L498.0,537.8 L499.6,514.5 L502.8,501.8 L504.9,514.5 L507.7,552.6 L509.2,529.3 L511.3,531.4 L513.8,502.8 L515.5,531.4 L517.0,561.1 L519.1,551.5 L521.9,550.5 L525.1,546.2 L526.1,551.5 L528.2,532.5 L530.4,548.4 L533.5,558.9 L536.3,548.4 L538.2,561.1 L540.9,554.7 L543.1,566.4 L545.2,560.0 L548.4,573.8 L551.5,576.9 L555.1,570.6 L556.8,582.2 L560.0,579.1 L563.2,580.1 L566.4,573.8 L569.1,582.2 L571.2,568.5 L573.3,585.4 L575.9,578.0 L577.6,572.7 L580.1,582.2 L582.2,578.0 L583.9,558.9 L586.0,573.8 L589.0,580.1 L592.4,568.5 L594.9,566.4 L597.1,590.7 L599.6,573.8 L601.7,576.9 L603.4,564.2 L606.6,568.5 L609.8,562.1 L611.9,571.6 L615.1,579.1 L618.2,563.2 L620.8,560.0 L624.2,558.9 L627.8,565.3 L629.9,562.1 L632.6,579.1 L634.1,566.4 L639.4,558.9 L642.0,571.6 L644.7,551.5 L646.2,569.5 L647.9,554.7 L649.8,569.5 L650.2,566.4 L652.7,563.2 L655.9,580.1 L659.1,567.4 L661.2,582.2 L663.3,588.6 L665.0,597.1 L667.5,581.2 L670.1,594.9 L673.5,580.1 L675.6,587.5 L677.7,582.2 L681.3,592.8 L684.5,585.4 L687.0,597.1 L690.8,594.9 L694.0,574.8 L696.1,580.1 L698.9,584.4 L701.8,582.2 L704.6,605.5 L708.2,596.0 L712.0,600.2 L714.5,609.8 L717.3,597.1 L720.0,591.8 L722.6,597.1 L724.7,590.7 L727.9,583.3 L730.6,594.9 L734.2,588.6 L736.4,596.0 L739.1,585.4 L741.2,591.8 L743.8,573.8 L746.9,556.8 L748.0,542.0 L749.7,522.9 L751.8,537.8 L753.9,509.2 L755.4,533.5 L756.5,503.9 L758.6,499.6 L760.7,486.9 L762.2,470.0 L762.7,458.2 L763.5,415.9 L764.6,397.9 L766.1,437.1 L767.8,483.6 L769.5,437.1 L770.9,403.2 L772.4,378.8 L774.1,398.9 L775.8,388.4 L777.3,401.1 L778.8,373.5 L780.5,358.7 L782.2,371.4 L784.3,353.4 L785.8,365.1 L787.9,346.0 L790.0,336.5 L792.1,343.9 L794.7,323.8 L796.4,348.1 L797.8,352.4 L799.5,360.8 L801.6,366.1 L803.3,398.9 L805.5,372.5 L807.6,377.8 L809.7,382.0 L811.2,415.9 L813.3,432.8 L815.4,412.7 L817.5,434.9 L819.6,454.0 L821.8,475.2 L823.9,467.8 L827.1,473.1 L829.2,472.0 L833.5,477.3" fill="none" stroke="#6868ff" stroke-width="1.85" stroke-dasharray="7.2 3.1" stroke-linejoin="round"/>
<path d="M119.5,92.6 L154.3,92.6 L164.9,88.2 L191.4,87.7 L196.6,90.4 L207.2,90.0 L216.1,88.2 L221.0,86.1 L224.9,89.1 L230.2,88.2 L234.6,84.7 L237.2,86.5 L240.8,83.8 L243.9,77.6 L245.2,82.9 L246.4,74.1 L248.7,83.8 L251.4,83.8 L254.5,72.4 L264.6,72.4 L266.4,82.9 L268.1,82.9 L269.0,72.4 L300.8,72.7 L302.5,82.9 L304.3,82.9 L306.1,73.2 L327.2,72.7 L329.0,82.9 L332.5,82.9 L336.9,86.5 L338.7,89.1 L340.5,86.5 L342.2,88.2 L347.5,75.9 L349.3,83.8 L351.9,77.6 L357.2,80.3 L360.8,82.1 L365.2,79.4 L367.8,83.8 L370.5,82.1 L374.0,87.4 L377.5,84.7 L381.9,87.4 L387.2,87.4 L392.5,90.0 L396.9,88.2 L399.6,91.4 L410.2,91.4 L413.7,90.4 L419.0,91.8 L421.1,87.4 L424.3,93.2 L433.1,91.8 L441.9,92.6 L454.3,92.6 L457.8,88.2 L462.2,81.2 L466.6,82.6 L470.2,82.9 L472.8,86.8 L477.2,87.4 L479.9,86.1 L483.4,89.1 L489.6,90.4 L494.9,88.6 L500.2,90.9 L510.8,90.9 L515.2,92.1 L524.0,91.4 L526.3,87.4 L528.4,91.4 L537.2,91.4 L541.6,87.9 L546.1,87.9 L549.6,85.6 L553.1,86.5 L558.4,84.7 L562.8,82.6 L569.0,84.7 L571.6,91.8 L577.8,92.6 L583.1,93.5 L590.2,91.8 L597.2,93.2 L607.8,92.1 L614.9,92.6 L621.9,91.4 L629.0,92.1 L636.1,91.4 L643.1,90.0 L648.4,90.9 L651.9,88.2 L656.4,82.1 L659.0,83.8 L662.5,88.2 L665.2,91.8 L671.4,90.0 L678.4,90.9 L683.7,89.1 L690.8,90.9 L696.1,90.0 L699.6,91.1 L700.0,90.9 L707.1,91.8 L714.1,92.6 L721.2,91.4 L728.2,88.2 L735.3,90.9 L745.9,91.8 L761.8,92.1 L774.1,92.1 L788.2,90.9 L795.3,88.6 L800.6,90.9 L807.6,90.9 L810.8,88.2 L813.8,91.4 L833.5,91.4" fill="none" stroke="#1c1cb0" stroke-width="0.80" stroke-dasharray="2.8 1.2" stroke-linejoin="round"/>
<path d="M119.5,93.9 L145.5,93.5 L171.9,91.8 L269.0,91.8 L286.6,93.2 L291.9,92.1 L300.8,93.5 L310.5,90.9 L314.9,93.5 L320.2,92.1 L325.5,94.4 L339.6,94.9 L348.4,93.5 L357.2,93.9 L419.0,96.2 L436.6,97.4 L450.8,97.9 L459.6,96.2 L462.2,95.3 L464.9,96.7 L470.2,94.9 L477.2,96.2 L480.8,94.4 L489.6,96.7 L507.2,97.1 L569.0,97.9 L579.6,99.7 L590.2,99.2 L594.6,101.5 L596.9,107.3 L599.9,101.5 L609.6,100.2 L616.6,101.5 L619.3,103.2 L621.9,100.6 L627.2,100.6 L632.5,104.1 L639.6,103.2 L643.1,106.8 L646.6,110.3 L649.3,109.1 L651.9,111.2 L655.5,102.4 L660.8,101.5 L663.4,110.3 L666.1,112.9 L671.4,111.2 L674.9,110.3 L677.5,105.9 L679.3,107.6 L681.9,103.2 L686.4,110.3 L690.8,107.6 L694.3,105.0 L697.8,104.1 L699.6,106.2 L700.0,105.5 L703.5,106.2 L706.2,101.5 L710.6,102.4 L715.9,99.7 L722.9,97.9 L731.8,96.7 L744.1,95.3 L761.8,94.4 L779.4,93.5 L797.1,92.6 L833.5,92.6" fill="none" stroke="#1515a0" stroke-width="1.05" stroke-dasharray="4.3 1.9" stroke-linejoin="round"/>
<path d="M119.5,96.2 L145.5,95.3 L149.9,97.9 L154.3,96.2 L163.1,93.5 L269.0,93.5 L325.5,96.2 L343.1,95.3 L419.0,97.4 L424.3,100.6 L426.9,106.8 L429.6,111.2 L433.1,112.1 L436.6,112.6 L441.1,111.5 L444.6,112.9 L448.1,111.2 L451.6,112.6 L455.2,109.1 L458.7,112.1 L462.2,106.2 L464.0,107.6 L468.4,102.4 L471.1,100.9 L472.8,104.5 L476.4,104.5 L479.9,99.7 L483.4,102.4 L486.9,105.0 L489.6,102.0 L492.2,104.1 L495.8,100.2 L501.9,99.2 L512.5,99.7 L519.6,101.5 L524.9,101.5 L531.9,105.0 L536.4,102.4 L539.9,106.8 L544.3,105.5 L548.7,111.5 L551.7,105.5 L554.9,112.9 L558.4,112.9 L561.9,118.2 L564.6,114.7 L569.0,118.2 L572.5,119.1 L576.9,118.6 L579.6,120.9 L584.0,119.1 L586.6,121.8 L590.2,118.2 L593.7,123.5 L597.2,129.7 L601.6,127.9 L604.3,121.8 L609.6,119.1 L613.1,126.2 L617.5,128.8 L621.1,126.7 L625.5,126.7 L629.9,130.2 L634.3,130.6 L636.9,131.5 L639.6,127.9 L644.0,131.5 L647.5,133.2 L650.2,131.5 L651.9,133.2 L654.6,129.7 L659.0,126.2 L661.6,130.6 L664.3,135.0 L667.8,131.5 L672.2,133.2 L676.6,130.6 L680.2,127.9 L683.7,126.2 L686.4,131.5 L690.8,127.9 L695.2,122.6 L697.8,124.4 L699.6,127.9 L700.0,126.2 L703.5,124.4 L707.1,122.6 L709.7,125.3 L713.2,121.8 L715.9,120.0 L718.5,115.6 L722.1,113.8 L726.5,107.6 L730.9,111.2 L735.3,108.5 L740.6,105.0 L743.2,99.7 L751.2,97.9 L760.0,96.2 L770.6,97.1 L779.4,96.2 L788.2,94.9 L798.8,94.4 L814.7,94.4 L833.5,95.3" fill="none" stroke="#0e0e8a" stroke-width="1.35" stroke-dasharray="5.7 2.5" stroke-linejoin="round"/>
<path d="M119.5,147.4 L122.5,144.7 L127.8,137.6 L130.5,124.4 L133.1,127.9 L137.5,112.1 L140.2,116.5 L142.8,112.9 L146.4,116.5 L149.9,151.8 L150.8,151.8 L154.3,112.9 L156.9,107.6 L158.2,108.5 L161.4,102.4 L166.6,99.7 L177.2,97.9 L198.4,97.1 L224.9,96.7 L251.4,97.9 L263.7,98.8 L267.2,103.2 L268.8,106.8 L269.0,104.1 L270.8,111.2 L273.4,109.4 L275.2,112.9 L276.9,111.2 L278.7,121.8 L280.5,127.1 L284.0,132.4 L284.9,136.8 L287.5,135.0 L288.4,138.5 L290.2,135.9 L291.1,139.4 L295.5,141.2 L298.1,133.2 L301.6,131.5 L303.4,134.1 L305.2,133.2 L307.8,138.5 L311.4,136.8 L315.8,135.9 L319.3,127.1 L321.1,130.6 L324.6,132.4 L327.2,127.9 L330.8,126.2 L333.4,119.1 L336.9,121.8 L340.5,122.6 L344.0,121.8 L346.6,112.1 L349.3,103.2 L353.7,104.1 L356.4,102.4 L359.0,104.1 L361.6,102.0 L378.4,102.0 L381.9,105.0 L384.6,110.3 L388.1,109.4 L390.8,112.9 L394.3,114.7 L397.8,118.2 L401.4,120.9 L404.0,126.2 L407.5,124.4 L411.9,129.7 L415.5,127.1 L418.8,129.7 L419.0,129.7 L421.6,127.9 L424.3,134.1 L427.8,138.5 L429.6,140.8 L433.1,141.5 L436.6,140.3 L441.9,141.5 L445.5,139.4 L449.9,140.8 L455.2,136.2 L458.7,139.4 L462.2,135.9 L465.8,137.6 L469.3,139.4 L473.7,139.4 L478.1,136.2 L482.5,137.6 L486.9,140.3 L491.4,143.3 L494.9,140.8 L499.3,137.3 L502.8,138.5 L507.2,141.5 L509.9,139.8 L513.4,140.3 L516.9,146.8 L521.4,145.1 L524.9,142.9 L528.4,144.7 L531.9,149.1 L535.5,148.2 L539.9,152.6 L542.5,150.9 L546.1,150.9 L548.7,154.4 L551.4,152.6 L554.9,159.7 L558.4,162.4 L561.9,165.5 L564.6,163.2 L568.8,172.1 L569.0,170.8 L572.5,169.4 L576.1,170.3 L578.7,168.0 L584.0,165.9 L586.6,168.5 L590.2,167.6 L594.6,172.1 L597.2,178.6 L600.8,177.4 L603.4,170.3 L607.8,167.6 L612.2,172.9 L614.9,175.6 L618.4,173.8 L621.9,171.5 L625.5,172.9 L629.9,177.9 L632.2,182.6 L635.2,176.5 L639.6,175.6 L643.1,178.6 L644.9,172.9 L647.5,177.9 L651.1,178.6 L653.7,174.7 L656.4,177.4 L659.0,173.8 L662.5,178.2 L665.2,182.6 L667.8,178.2 L670.5,182.6 L674.0,180.0 L677.5,180.0 L681.1,176.1 L684.6,174.7 L687.2,177.9 L690.8,170.3 L694.6,165.0 L696.9,166.2 L699.2,173.8 L700.0,172.1 L703.5,167.6 L707.9,163.2 L711.5,165.9 L714.1,161.5 L717.6,157.9 L721.2,157.1 L725.6,150.0 L729.1,148.2 L732.6,150.0 L736.2,145.6 L738.8,146.5 L743.2,137.6 L746.8,133.2 L751.2,129.7 L755.6,125.3 L758.2,120.0 L761.8,115.6 L764.4,110.3 L767.9,116.5 L770.6,111.2 L775.9,109.4 L781.2,106.8 L784.7,107.6 L788.2,103.2 L792.6,102.4 L796.2,100.2 L799.7,100.9 L802.4,104.1 L807.6,108.5 L811.2,104.1 L814.7,107.6 L820.0,107.3 L824.4,109.4 L827.9,117.4 L831.5,116.5 L833.5,123.5" fill="none" stroke="#05055a" stroke-width="1.85" stroke-dasharray="7.2 3.1" stroke-linejoin="round"/>
<path d="M119.5,233.8 L119.9,234.7 L123.4,237.4 L126.9,227.6 L128.7,226.8 L130.5,219.7 L132.2,223.2 L137.5,221.5 L140.2,224.1 L142.8,225.0 L144.6,233.8 L146.4,226.8 L149.4,254.1 L151.6,246.2 L154.3,240.0 L155.7,242.6 L157.8,232.9 L159.6,233.8 L162.2,215.3 L164.9,213.5 L167.0,205.6 L169.3,187.1 L171.6,168.5 L174.6,163.2 L176.4,165.9 L179.9,153.5 L182.5,153.5 L185.7,141.2 L188.7,151.8 L191.4,147.4 L194.0,143.8 L195.8,132.4 L197.5,145.6 L201.9,127.9 L204.6,130.6 L206.4,128.8 L208.6,136.8 L210.8,134.1 L213.4,137.6 L216.1,139.4 L218.2,149.1 L220.5,146.5 L223.1,142.1 L226.6,148.2 L229.3,152.6 L233.7,147.4 L235.5,163.2 L238.1,156.2 L241.6,151.8 L245.2,159.7 L247.8,161.5 L253.1,165.0 L259.3,178.2 L262.8,171.2 L265.5,175.6 L268.8,172.9 L269.0,172.9 L270.8,178.2 L272.5,180.0 L275.2,187.1 L277.8,192.4 L280.5,197.6 L283.1,196.8 L285.8,201.2 L288.4,207.4 L291.9,206.5 L295.5,207.4 L298.1,202.1 L300.8,200.3 L306.1,200.3 L308.7,196.8 L311.4,195.9 L314.9,192.4 L316.6,196.8 L319.3,191.5 L321.9,190.6 L324.6,190.6 L328.1,180.9 L329.9,187.1 L333.4,180.0 L338.7,181.8 L341.4,180.0 L344.0,184.4 L346.6,180.0 L349.3,175.6 L351.9,178.2 L354.6,175.6 L356.4,178.2 L359.0,174.7 L363.4,170.3 L366.1,172.1 L369.6,175.6 L372.2,172.1 L376.6,172.1 L381.1,174.7 L384.6,179.1 L389.0,177.4 L392.5,176.5 L396.1,180.0 L400.5,188.8 L404.0,191.5 L405.8,187.1 L408.4,186.2 L410.2,192.4 L414.6,195.0 L418.8,190.6 L419.0,192.4 L421.1,189.7 L423.4,193.2 L426.1,195.9 L429.2,205.6 L433.1,202.1 L435.8,204.7 L438.4,202.1 L441.9,208.2 L445.1,203.8 L449.0,209.1 L451.6,204.7 L454.3,206.5 L456.1,201.2 L459.6,210.9 L462.8,201.2 L465.8,209.1 L467.5,203.8 L470.2,210.0 L471.9,208.2 L473.7,211.8 L476.4,210.0 L478.6,206.5 L481.6,213.5 L483.4,216.2 L485.2,213.5 L486.9,221.5 L489.6,218.8 L491.4,226.8 L493.1,217.9 L494.9,219.7 L496.6,216.2 L498.4,218.8 L500.2,214.4 L501.9,215.3 L504.6,213.2 L507.2,222.4 L509.0,214.4 L513.4,209.1 L515.2,217.9 L516.9,229.4 L519.6,225.9 L523.1,221.5 L525.8,218.8 L528.4,218.8 L530.2,227.6 L531.9,229.4 L533.7,236.5 L536.4,229.4 L539.0,250.6 L541.6,239.1 L543.4,249.7 L545.7,236.5 L547.8,247.9 L551.4,253.2 L553.1,250.6 L554.9,257.6 L555.8,254.1 L557.5,270.0 L560.2,268.2 L562.8,278.8 L566.4,264.7 L568.1,291.2 L568.5,291.4 L571.6,278.7 L574.4,292.5 L576.5,278.7 L579.5,304.1 L582.2,293.5 L583.7,266.0 L585.8,293.5 L587.5,287.2 L590.7,295.6 L592.2,317.9 L593.9,308.4 L595.6,314.7 L597.1,397.3 L598.5,348.6 L600.2,342.2 L601.7,354.9 L603.4,306.2 L604.9,311.5 L607.0,300.9 L608.3,303.1 L609.8,293.5 L612.5,348.6 L614.6,368.7 L617.6,322.1 L619.3,340.1 L621.0,313.6 L622.5,309.4 L625.6,323.2 L627.8,346.0 L630.3,346.0 L632.0,395.2 L633.7,365.5 L636.2,357.1 L638.8,335.9 L640.5,333.8 L643.0,365.5 L644.7,308.4 L646.4,359.2 L647.9,318.9 L649.8,363.4 L651.5,329.5 L652.8,326.4 L654.4,349.6 L655.7,333.8 L657.8,340.1 L659.1,317.2 L661.2,349.6 L662.7,353.9 L664.2,411.1 L666.9,364.5 L670.1,408.9 L672.2,386.7 L673.7,374.0 L675.4,394.1 L676.9,383.5 L678.6,382.5 L680.1,359.2 L681.8,384.6 L684.9,347.5 L686.6,381.4 L688.1,352.8 L691.3,357.1 L694.0,299.9 L697.2,305.2 L699.3,335.9 L702.3,310.5 L705.7,321.1 L707.2,310.5 L709.3,308.4 L710.8,292.5 L712.0,312.6 L713.7,284.0 L715.6,300.9 L717.6,272.4 L717.6,262.9 L719.8,265.6 L722.1,250.6 L723.8,231.2 L725.6,238.2 L727.9,229.4 L730.0,241.8 L731.8,243.5 L733.9,237.4 L737.1,245.3 L739.2,240.9 L740.9,243.5 L742.4,227.6 L745.0,220.6 L746.8,221.5 L749.4,210.0 L752.1,206.5 L753.8,202.9 L755.1,208.2 L756.5,197.6 L759.1,195.9 L761.8,193.2 L764.4,188.8 L767.9,194.1 L769.7,187.1 L771.5,176.5 L774.1,175.6 L777.6,183.5 L780.3,173.8 L782.9,179.1 L786.5,172.9 L790.0,172.9 L793.5,173.8 L796.2,178.2 L799.7,172.9 L801.5,187.1 L803.2,200.3 L805.9,203.8 L808.5,210.9 L811.2,220.6 L814.7,225.9 L817.4,234.7 L819.1,236.5 L820.9,244.4 L823.5,248.8 L825.3,247.9 L827.1,255.0 L828.8,254.1 L831.5,262.9 L833.5,267.4" fill="none" stroke="#000" stroke-width="2.6" stroke-linejoin="round" stroke-linecap="square"/>
</g>
<rect x="119.5" y="39.5" width="714.0" height="726.0" fill="none" stroke="#000" stroke-width="1.39"/>
<line x1="119.5" y1="765.5" x2="119.5" y2="771.5" stroke="#000" stroke-width="1.39"/>
<text class="tk" x="119.5" y="790.6" text-anchor="middle">0</text>
<line x1="199.5" y1="765.5" x2="199.5" y2="771.5" stroke="#000" stroke-width="1.39"/>
<text class="tk" x="199.5" y="790.6" text-anchor="middle">50</text>
<line x1="279.5" y1="765.5" x2="279.5" y2="771.5" stroke="#000" stroke-width="1.39"/>
<text class="tk" x="279.5" y="790.6" text-anchor="middle">100</text>
<line x1="359.5" y1="765.5" x2="359.5" y2="771.5" stroke="#000" stroke-width="1.39"/>
<text class="tk" x="359.5" y="790.6" text-anchor="middle">150</text>
<line x1="439.5" y1="765.5" x2="439.5" y2="771.5" stroke="#000" stroke-width="1.39"/>
<text class="tk" x="439.5" y="790.6" text-anchor="middle">200</text>
<line x1="518.5" y1="765.5" x2="518.5" y2="771.5" stroke="#000" stroke-width="1.39"/>
<text class="tk" x="518.5" y="790.6" text-anchor="middle">250</text>
<line x1="598.5" y1="765.5" x2="598.5" y2="771.5" stroke="#000" stroke-width="1.39"/>
<text class="tk" x="598.5" y="790.6" text-anchor="middle">300</text>
<line x1="678.5" y1="765.5" x2="678.5" y2="771.5" stroke="#000" stroke-width="1.39"/>
<text class="tk" x="678.5" y="790.6" text-anchor="middle">350</text>
<line x1="758.5" y1="765.5" x2="758.5" y2="771.5" stroke="#000" stroke-width="1.39"/>
<text class="tk" x="758.5" y="790.6" text-anchor="middle">400</text>
<line x1="113.5" y1="713.5" x2="119.5" y2="713.5" stroke="#000" stroke-width="1.39"/>
<text class="tk" x="107.2" y="721.0" text-anchor="end">200</text>
<line x1="113.5" y1="559.5" x2="119.5" y2="559.5" stroke="#000" stroke-width="1.39"/>
<text class="tk" x="107.2" y="566.0" text-anchor="end">400</text>
<line x1="113.5" y1="404.5" x2="119.5" y2="404.5" stroke="#000" stroke-width="1.39"/>
<text class="tk" x="107.2" y="412.0" text-anchor="end">600</text>
<line x1="113.5" y1="250.5" x2="119.5" y2="250.5" stroke="#000" stroke-width="1.39"/>
<text class="tk" x="107.2" y="257.0" text-anchor="end">800</text>
<line x1="113.5" y1="95.5" x2="119.5" y2="95.5" stroke="#000" stroke-width="1.39"/>
<text class="tk" x="107.2" y="103.0" text-anchor="end">1000</text>
<text class="lb" x="475.9" y="815.5" text-anchor="middle">Binned row index</text>
<text class="lb" transform="translate(53.5,403) rotate(-90)" text-anchor="middle">Aerosol mid pressure [hPa]</text>
<rect x="119.2" y="17.1" width="713.8" height="22.3" rx="2.6" ry="2.6" fill="#fff" fill-opacity="0.8" stroke="#d9d9d9" stroke-width="1.5"/>
<line x1="119.2" y1="39.45" x2="833.8" y2="39.45" stroke="#7c7c7c" stroke-width="1.4"/>
<line x1="124.4" y1="27.6" x2="147.8" y2="27.6" stroke="#d4d4ff" stroke-width="0.76" stroke-dasharray="2.8 1.2"/>
<text class="lg" x="156.3" y="31.6">1-99%</text>
<line x1="278.2" y1="27.6" x2="301.2" y2="27.6" stroke="#a3a3ff" stroke-width="1.05" stroke-dasharray="4.3 1.9"/>
<text class="lg" x="311.5" y="31.6">5-95%</text>
<line x1="432.4" y1="27.6" x2="455.3" y2="27.6" stroke="#8282ff" stroke-width="1.35" stroke-dasharray="5.7 2.5"/>
<text class="lg" x="464.1" y="31.6">10-90%</text>
<line x1="593.0" y1="27.6" x2="616.2" y2="27.6" stroke="#6868ff" stroke-width="1.85" stroke-dasharray="7.2 3.1"/>
<text class="lg" x="626.6" y="31.6">25-75%</text>
<line x1="753.1" y1="27.6" x2="778.5" y2="27.6" stroke="#000" stroke-width="2.60"/>
<text class="lg" x="787.4" y="31.6">Median</text>
</svg></body></html>
